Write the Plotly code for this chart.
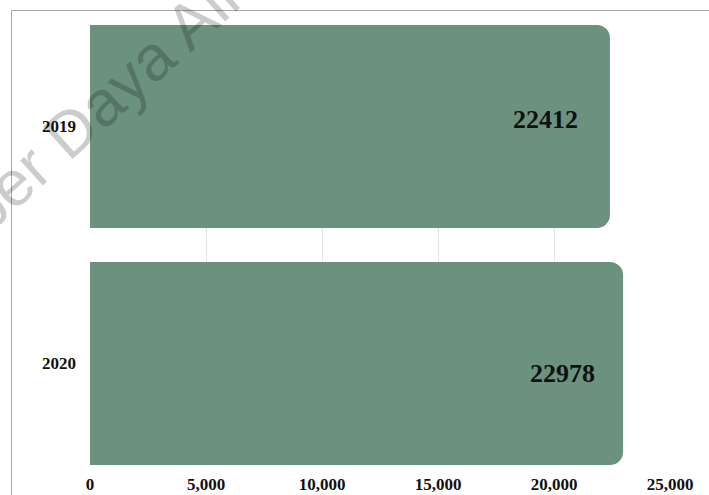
import plotly.graph_objects as go

# Data
years = ["2019", "2020"]
values = [22412, 22978]
x_ticks = [0, 5000, 10000, 15000, 20000, 25000]

BAR_COLOR = "#6B927F"
SERIF = "Liberation Serif, Times New Roman, serif"

W, H = 709, 495
ML, MR, MT, MB = 90, 39, 25, 30
PW, PH = W - ML - MR, H - MT - MB

def px_to_paper_x(px):
    return (px - ML) / PW

def px_to_paper_y(py):
    return (H - MB - py) / PH

bargap = 0.1435
half = (1 - bargap) / 2

fig = go.Figure(
    go.Bar(
        x=values,
        y=years,
        orientation="h",
        marker=dict(color=BAR_COLOR, line=dict(width=0), cornerradius=13),
        hoverinfo="skip",
    )
)

# value labels inside the bar ends (y given as category index)
label_shifts = [(-30, 7), (-26, -10)]
for i, (v, (dx, dy)) in enumerate(zip(values, label_shifts)):
    fig.add_annotation(
        x=v, y=i, xref="x", yref="y", text=str(v), showarrow=False,
        xanchor="right", yanchor="middle", xshift=dx, yshift=dy,
        font=dict(family=SERIF, size=26, color="#111111", weight="bold"),
    )

# faint diagonal watermark
fig.add_annotation(
    xref="paper", yref="paper",
    x=px_to_paper_x(54), y=px_to_paper_y(146),
    text="Sumber Daya Air", showarrow=False, textangle=-42,
    xanchor="center", yanchor="middle",
    font=dict(family="Liberation Sans, Arial, sans-serif", size=64,
              color="rgba(0,0,0,0.2)"),
)

# frame lines (top and left)
top_y = px_to_paper_y(10.5)
left_x = px_to_paper_x(11.5)
fig.add_shape(type="line", xref="paper", yref="paper",
              x0=left_x, x1=px_to_paper_x(W + 2), y0=top_y, y1=top_y,
              line=dict(color="#a8a8a8", width=1))
fig.add_shape(type="line", xref="paper", yref="paper",
              x0=left_x, x1=left_x, y0=top_y, y1=px_to_paper_y(H + 2),
              line=dict(color="#a8a8a8", width=1))

fig.update_layout(
    width=W, height=H, autosize=False,
    margin=dict(l=ML, r=MR, t=MT, b=MB, pad=0),
    paper_bgcolor="white", plot_bgcolor="white",
    bargap=bargap, showlegend=False,
    xaxis=dict(
        range=[0, 25000], tickvals=x_ticks, tickformat=",d",
        showgrid=True, gridcolor="#e3e3e3", gridwidth=1,
        zeroline=False, showline=False, ticks="",
        automargin=False, ticklabelstandoff=7,
        tickfont=dict(family=SERIF, size=17, color="#111111", weight="bold"),
        fixedrange=True,
    ),
    yaxis=dict(
        type="category",
        categoryorder="array", categoryarray=years,
        range=[1 + half, -half],
        showgrid=False, zeroline=False, showline=False, ticks="",
        automargin=False, ticklabelstandoff=13,
        tickfont=dict(family=SERIF, size=17, color="#111111", weight="bold"),
        fixedrange=True,
    ),
)

fig.write_html("out.html")
